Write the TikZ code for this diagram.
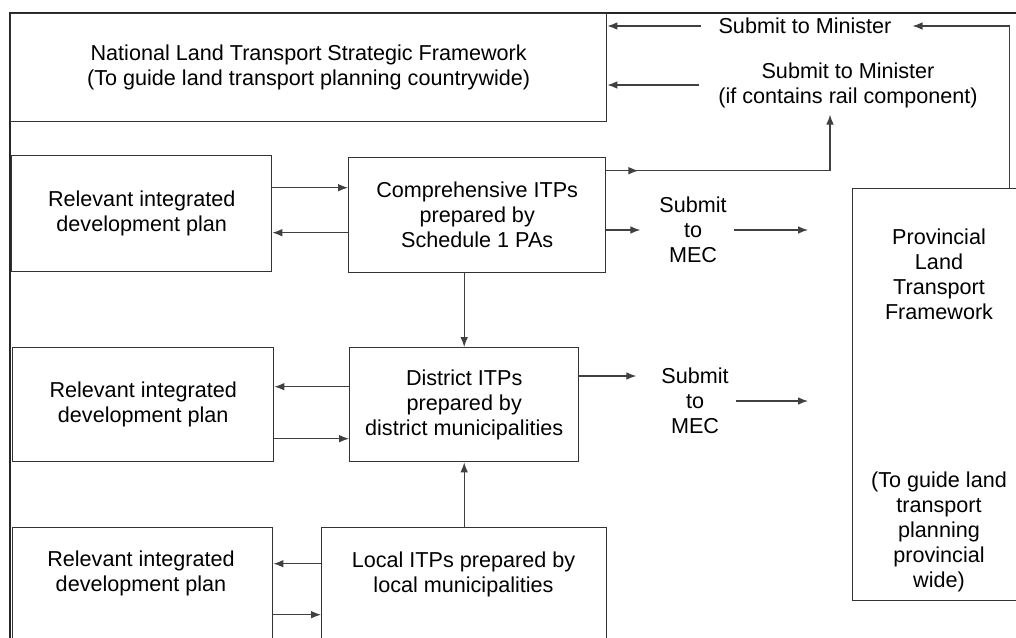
\documentclass[tikz,border=0pt]{standalone}
\usepackage{fontspec}
\setmainfont{Liberation Sans}
\usetikzlibrary{arrows.meta, positioning, calc}

\begin{document}
\begin{tikzpicture}[
  x=0.5pt, y=-0.5pt,
  font=\fontsize{10.8}{12.5}\selectfont,
  >={Latex[length=5pt, width=3.8pt]},
  box/.style={draw=black!80, line width=0.7pt, align=center, anchor=north west, inner sep=0pt},
  txt/.style={align=center},
  frame/.style={draw=black!85, line width=1.2pt},
  arr/.style={->, line width=0.55pt, draw=black!75},
  ]
\useasboundingbox (0,0) rectangle (1016,637);
\clip (0,0) rectangle (1016,637);
\draw[frame] (10,13) rectangle (1040,660);

% frameworks
\node[box, minimum width=298pt, minimum height=54pt] (natl) at (10,13)
  {National Land Transport Strategic Framework\\(To guide land transport planning countrywide)};
\node[box, minimum width=87pt, minimum height=206pt] (prov) at (852,188) {};
\node[txt] (provname) at (939,274) {Provincial\\Land\\Transport\\Framework};
\node[txt] (provnote) at (939,532) {(To guide land\\transport\\planning\\provincial\\wide)};

% plans
\node[box, minimum width=130pt, minimum height=58pt] (rel1) at (11,155)
  {Relevant integrated\\development plan};
\node[box, minimum width=128.5pt, minimum height=57.5pt] (comp) at (348,157)
  {Comprehensive ITPs\\prepared by\\Schedule 1 PAs};
\node[box, minimum width=130.5pt, minimum height=57pt] (rel2) at (12,347)
  {Relevant integrated\\development plan};
\node[box, minimum width=114.5pt, minimum height=57pt] (dist) at (349,347)
  {District ITPs\\prepared by\\district municipalities};
\node[box, minimum width=130pt, minimum height=66.5pt] (rel3) at (12,527) {};
\node[txt] (rel3txt) at (141,573.5) {Relevant integrated\\development plan};
\node[box, minimum width=142.5pt, minimum height=66.5pt] (local) at (321,527) {};
\node[txt] (localtxt) at (463.5,574.5) {Local ITPs prepared by\\local municipalities};

% submissions
\node[txt] (sub1) at (805,26) {Submit to Minister};
\node[txt] (sub2) at (848,85) {Submit to Minister\\(if contains rail component)};
\node[txt] (mec1) at (693,230) {Submit\\to\\MEC};
\node[txt] (mec2) at (695,401) {Submit\\to\\MEC};

% to the minister
\draw[arr] ([xshift=-9pt]prov.north east) |- ([xshift=7pt]sub1.east);
\draw[arr] ([xshift=-5.5pt]sub1.west) -- (sub1.west -| natl.east);
\draw[arr] ([xshift=-6pt]sub2.west) -- (sub2.west -| natl.east);
\draw[arr] ([yshift=22.25pt]comp.east) -- ([yshift=22.25pt, xshift=16pt]comp.east);
\draw[arr] ([yshift=22.25pt]comp.east) -| ([xshift=-9pt]sub2.south);

% comprehensive ITPs
\draw[arr] ([yshift=13pt]rel1.east) -- ([yshift=13pt]rel1.east -| comp.west);
\draw[arr] ([yshift=-9.5pt]rel1.east -| comp.west) -- ([yshift=-9.5pt]rel1.east);
\draw[arr] (comp.east |- mec1.west) -- ([xshift=-6pt]mec1.west);
\draw[arr] (mec1.east) -- ([xshift=-22pt]prov.west |- mec1.east);
\draw[arr] (comp.south -| dist.north) -- (dist.north);

% district ITPs
\draw[arr] ([yshift=9pt]dist.west) -- ([yshift=9pt]dist.west -| rel2.east);
\draw[arr] ([yshift=-17pt]dist.west -| rel2.east) -- ([yshift=-17pt]dist.west);
\draw[arr] ([yshift=12.5pt]mec2.west -| dist.east) -- ([yshift=12.5pt, xshift=-9pt]mec2.west);
\draw[arr] (mec2.east) -- ([xshift=-22pt]prov.west |- mec2.east);

% local ITPs
\draw[arr] (local.north) -- (dist.south);
\draw[arr] ([yshift=15.25pt]local.west) -- ([yshift=15.25pt]local.west -| rel3.east);
\draw[arr] ([yshift=-10.25pt]local.west -| rel3.east) -- ([yshift=-10.25pt]local.west);
\end{tikzpicture}
\end{document}
